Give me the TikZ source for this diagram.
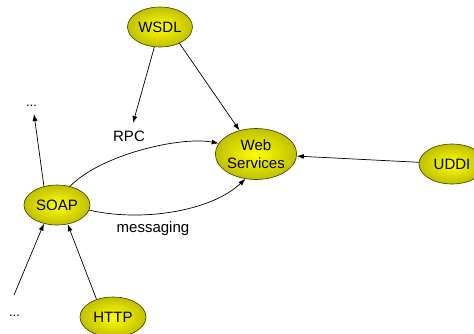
\documentclass[tikz,border=0pt]{standalone}
\usepackage{fontspec}
\setmainfont{Liberation Sans}
\usetikzlibrary{shapes.geometric,arrows.meta}
\definecolor{olivedge}{RGB}{192,192,0}
\definecolor{rimcol}{RGB}{60,60,0}
\tikzset{
  bubble/.style={ellipse, draw=rimcol, line width=0.6pt, inner sep=0pt,
    shading=radial, inner color=yellow, outer color=olivedge,
    font=\fontsize{15}{17.5}\selectfont, align=center},
  conn/.style={-{Latex[length=7pt,width=5pt]}, line width=0.7pt},
  lbl/.style={font=\fontsize{15}{17}\selectfont},
  dotlbl/.style={font=\fontsize{13}{14}\selectfont, inner sep=0pt}
}
\begin{document}
\begin{tikzpicture}[x=1pt,y=-1pt]
  \useasboundingbox (0,0) rectangle (474,333);
  \clip (0,0) rectangle (474,333);
  % nodes
  \node[bubble, minimum width=65pt, minimum height=40pt] (wsdl) at (160,27) {WSDL};
  \node[bubble, minimum width=79pt, minimum height=51pt] (ws) at (256,154) {Web\\Services};
  \node[bubble, minimum width=66pt, minimum height=40pt] (uddi) at (452,164) {UDDI};
  \node[bubble, minimum width=66pt, minimum height=40pt] (soap) at (57,205) {SOAP};
  \node[bubble, minimum width=66pt, minimum height=40pt] (http) at (113,317) {HTTP};
  % labels
  \node[lbl] (rpc) at (129,136) {RPC};
  \node[lbl] (msg) at (153,229) {messaging};
  \node[dotlbl] (dotstop) at (31.5,105.5) {...};
  \node[dotlbl] (dotsbot) at (14.5,316) {...};
  \coordinate (rpcend) at (133,123);
  \coordinate (toptip) at (34,114);
  \coordinate (botstart) at (14,295);
  % connectors
  \draw[conn] (wsdl) -- (rpcend);
  \draw[conn] (wsdl.-40) -- (ws.125);
  \draw[conn] (uddi) -- (ws);
  \draw[conn] (soap.125) -- (toptip);
  \draw[conn] (botstart) -- (soap.-125);
  \draw[conn] (http.133) -- (soap.-61);
  \draw[conn] (soap.55) .. controls (100,155) and (180,136) .. (ws.164);
  \draw[conn] (soap.-9) .. controls (140,222) and (210,212) .. (ws.-113);
\end{tikzpicture}
\end{document}
